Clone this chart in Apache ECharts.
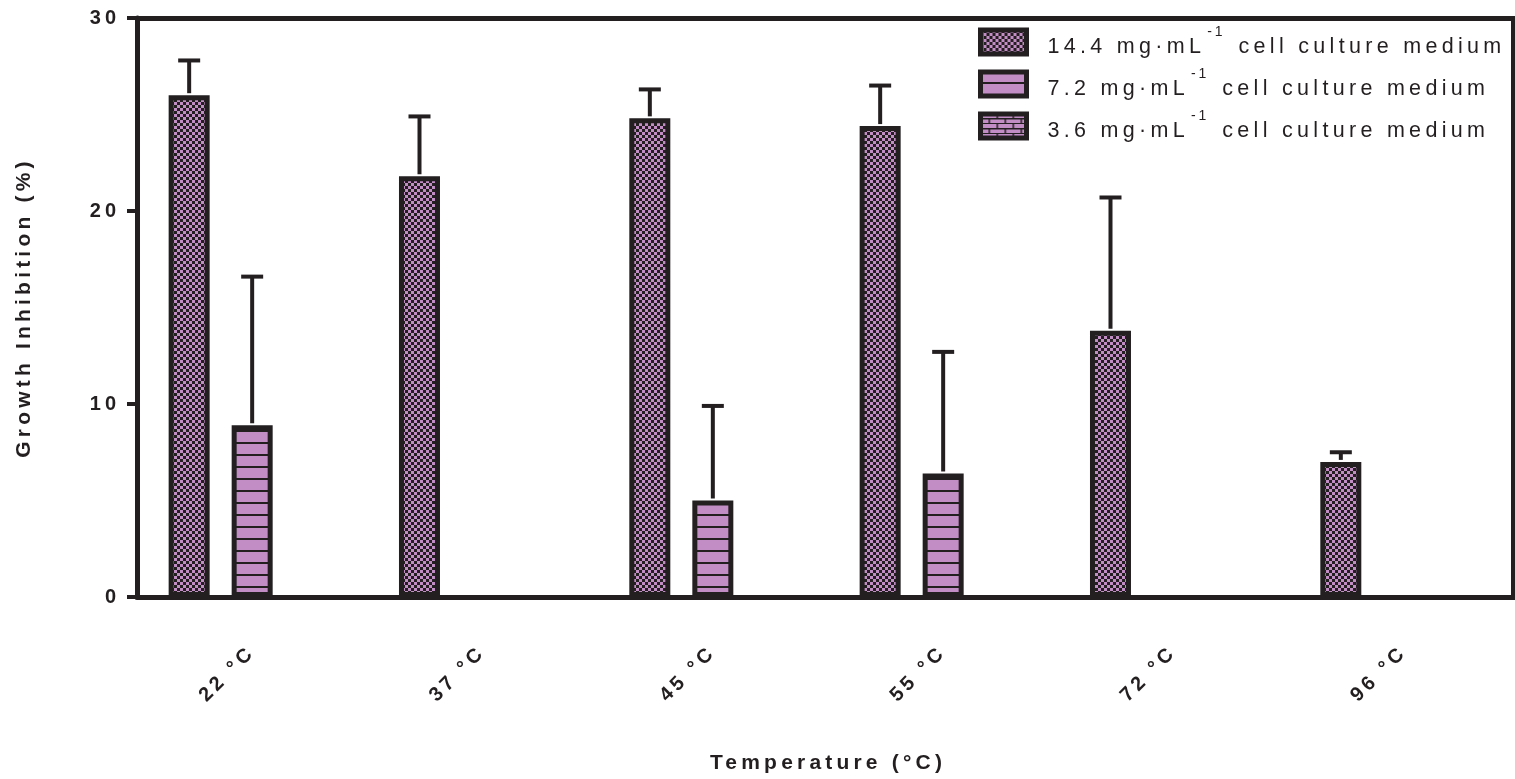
<!DOCTYPE html>
<html>
<head>
<meta charset="utf-8">
<script src="https://cdn.jsdelivr.net/npm/echarts@6/dist/echarts.min.js"></script>
<style>
  html, body { margin: 0; padding: 0; background: #ffffff; }
  #chart { width: 1515px; height: 779px; }
</style>
</head>
<body>
<div id="chart"></div>
<script>
// ---- data ----
const temperatures = ['22 °C', '37 °C', '45 °C', '55 °C', '72 °C', '96 °C'];
const concentrations = ['14.4', '7.2', '3.6'];           // mg·mL-1 cell culture medium
const inhibition144 = [26.0, 21.8, 24.8, 24.4, 13.8, 7.0];
const sd144 = [1.8, 3.1, 1.5, 2.1, 6.9, 0.5];
const inhibition72 = [8.9, null, 5.0, 6.4, null, null];
const sd72 = [7.7, null, 4.9, 6.3, null, null];
const inhibition36 = [null, null, null, null, null, null];
const sd36 = [null, null, null, null, null, null];
const yTicks = [0, 10, 20, 30];

// ---- style ----
const INK = '#231f20';
const PINK = '#c28dc5';
const BAR_W = 41;      // bar body width, px
const GAP_W = 22;      // gap between bars of one group, px
const FONT = '"Liberation Sans", Arial, Helvetica, sans-serif';

// Tracked (letter-spaced) type throughout: canvas supports letterSpacing,
// so apply it whenever a font is assigned (drawing and measuring alike).
(function () {
  const proto = CanvasRenderingContext2D.prototype;
  const desc = Object.getOwnPropertyDescriptor(proto, 'font');
  if (!desc || !('letterSpacing' in proto)) return;
  Object.defineProperty(proto, 'font', {
    configurable: true,
    get() { return desc.get.call(this); },
    set(v) {
      desc.set.call(this, v);
      const m = /(\d+(?:\.\d+)?)px/.exec(v);
      const size = m ? parseFloat(m[1]) : 12;
      this.letterSpacing = (size * 0.2).toFixed(1) + 'px';
    }
  });
})();

// Fill patterns
function tile(w, h, draw) {
  const c = document.createElement('canvas');
  c.width = w; c.height = h;
  const g = c.getContext('2d');
  draw(g);
  return c;
}
const checker = tile(6, 6, g => {
  g.fillStyle = PINK; g.fillRect(0, 0, 6, 6);
  g.fillStyle = INK; g.fillRect(3, 0, 3, 3); g.fillRect(0, 3, 3, 3);
});
const stripes = tile(8, 12, g => {
  g.fillStyle = PINK; g.fillRect(0, 0, 8, 12);
  g.fillStyle = INK; g.fillRect(0, 10, 8, 2);
});
const bricks = tile(16, 10, g => {
  g.fillStyle = PINK; g.fillRect(0, 0, 16, 10);
  g.fillStyle = INK;
  g.fillRect(0, 4, 16, 1.5); g.fillRect(0, 9, 16, 1.5);
  g.fillRect(0, 0, 1.5, 5); g.fillRect(8, 5, 1.5, 5);
});
const patterns = [checker, stripes, bricks];

const means = [inhibition144, inhibition72, inhibition36];
const sds = [sd144, sd72, sd36];

const barSeries = concentrations.map((c, i) => ({
  name: c,
  type: 'bar',
  data: means[i],
  barWidth: BAR_W,
  barGap: (GAP_W / BAR_W * 100).toFixed(1) + '%',
  itemStyle: {
    color: { image: patterns[i], repeat: 'repeat' },
    borderColor: INK,
    borderWidth: 5
  },
  emphasis: { disabled: true },
  z: 2
}));

// Upper error bars (mean + SD) with caps, offset to each bar's slot
const errorSeries = concentrations.map((c, i) => ({
  name: c + ' SD',
  type: 'custom',
  z: 3,
  silent: true,
  data: means[i].map((m, k) => [k, m, sds[i][k]]).filter(d => d[1] != null && d[2] != null),
  renderItem(params, api) {
    const offset = (i - 1) * (BAR_W + GAP_W);
    const base = api.coord([api.value(0), api.value(1)]);
    const top = api.coord([api.value(0), api.value(1) + api.value(2)]);
    const x = base[0] + offset;
    const st = { stroke: INK, lineWidth: 4 };
    return {
      type: 'group',
      children: [
        { type: 'line', shape: { x1: x, y1: base[1] - 2, x2: x, y2: top[1] }, style: st },
        { type: 'line', shape: { x1: x - 11, y1: top[1], x2: x + 11, y2: top[1] }, style: st }
      ]
    };
  }
}));

const chart = echarts.init(document.getElementById('chart'), null, { renderer: 'canvas' });
chart.setOption({
  animation: false,
  backgroundColor: '#ffffff',
  textStyle: { fontFamily: FONT, color: INK },
  grid: { left: 137, right: -4, top: 18, bottom: 182, containLabel: false, outerBoundsMode: 'none' },
  legend: {
    data: concentrations,
    orient: 'vertical',
    left: 978,
    top: 24,
    padding: 0,
    icon: 'rect',
    itemWidth: 46,
    itemHeight: 24,
    itemGap: 6,
    selectedMode: false,
    itemStyle: { borderColor: INK, borderWidth: 5 },
    formatter: name => '{t|' + name + ' mg·mL}{s|-1}{t| cell culture medium}',
    textStyle: {
      padding: [0, 0, 0, 16],
      rich: {
        t: { fontFamily: FONT, fontSize: 21.5, color: INK, lineHeight: 36, verticalAlign: 'bottom' },
        s: { fontFamily: FONT, fontSize: 14, color: INK, lineHeight: 36, verticalAlign: 'top', padding: [0, 3, 0, 2] }
      }
    }
  },
  xAxis: [{
    type: 'category',
    data: temperatures,
    axisLine: { lineStyle: { color: INK, width: 5 } },
    axisTick: { alignWithLabel: true, length: 10, lineStyle: { color: INK, width: 4 } },
    axisLabel: {
      rotate: 45, margin: 52, fontSize: 20, fontWeight: 'bold', color: INK, fontFamily: FONT
    },
    name: 'Temperature (°C)',
    nameLocation: 'middle',
    nameGap: 154,
    nameTextStyle: { fontSize: 21, fontWeight: 'bold', color: INK, fontFamily: FONT }
  }, {
    type: 'category',
    data: temperatures,
    position: 'top',
    axisLine: { onZero: false, lineStyle: { color: INK, width: 5 } },
    axisTick: { show: false },
    axisLabel: { show: false }
  }],
  yAxis: [{
    type: 'value',
    min: yTicks[0],
    max: yTicks[yTicks.length - 1],
    interval: yTicks[1] - yTicks[0],
    axisLine: { show: true, lineStyle: { color: INK, width: 5 } },
    axisTick: { show: true, length: 10, lineStyle: { color: INK, width: 4 } },
    splitLine: { show: false },
    axisLabel: { margin: 17, fontSize: 20, fontWeight: 'bold', color: INK, fontFamily: FONT },
    name: 'Growth Inhibition (%)',
    nameLocation: 'middle',
    nameGap: 100,
    nameTextStyle: { fontSize: 21, fontWeight: 'bold', color: INK, fontFamily: FONT }
  }, {
    type: 'value',
    position: 'right',
    offset: -6,
    min: yTicks[0],
    max: yTicks[yTicks.length - 1],
    axisLine: { show: true, onZero: false, lineStyle: { color: INK, width: 4 } },
    axisTick: { show: false },
    axisLabel: { show: false },
    splitLine: { show: false }
  }],
  series: [...barSeries, ...errorSeries]
});
</script>
</body>
</html>
